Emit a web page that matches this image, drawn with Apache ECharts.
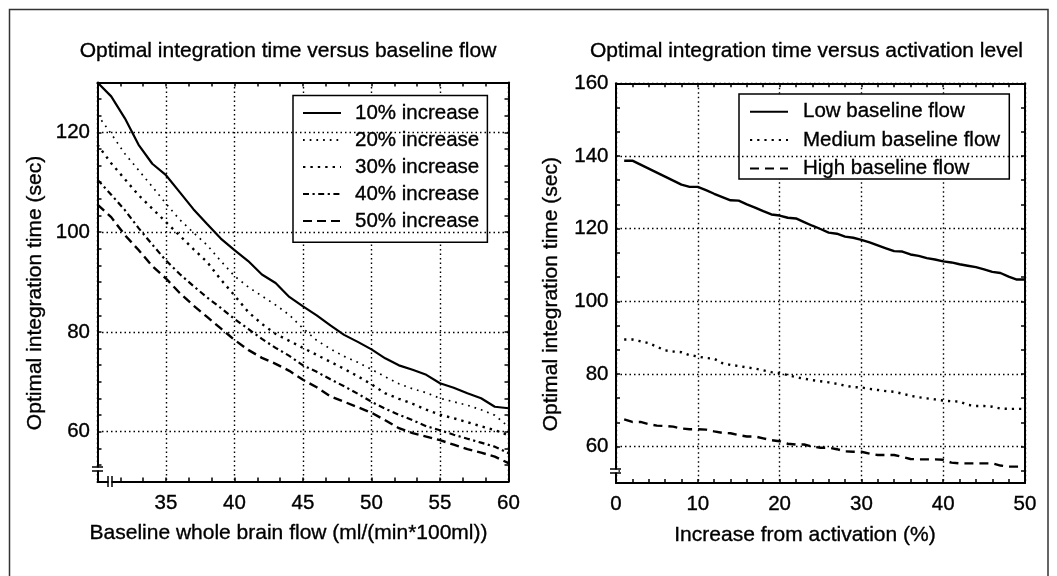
<!DOCTYPE html>
<html><head><meta charset="utf-8">
<script src="https://cdn.jsdelivr.net/npm/echarts@6/dist/echarts.min.js"></script>
<style>html,body{margin:0;padding:0;background:#fff}#c{width:1057px;height:576px}</style>
</head><body><div id="c"></div><script>
// ---------- data ----------
const flow = [30,31,32,33,34,35,36,37,38,39,40,41,42,43,44,45,46,47,48,49,50,51,52,53,54,55,56,57,58,59,60];
const inc10 = [130,127.2,122.8,117.5,113.7,111.4,108,104.6,101.6,98.7,96.4,94.2,91.5,89.8,87,85.1,83.3,81.3,79.4,78,76.5,74.7,73.3,72.4,71.4,69.7,68.8,67.7,66.7,65,64.7];
const inc20 = [123.5,119.7,115.7,112.4,109.1,105.7,102.5,99.9,97.4,94.2,91.2,89,87.2,85.4,83.4,80.7,78.3,76.6,75.1,73.9,72.5,71,69.6,68.6,67.8,66.7,66,65.3,64.4,63.3,61];
const inc30 = [117.5,113.8,110.6,107.4,104.7,102,99.3,96.6,94,90.5,87.3,84,81.6,79.6,78.2,76.8,75.4,74,72.6,71.1,69.5,67.7,66.6,65.6,64.4,63.4,62.7,61.9,61.1,60.3,59.3];
const inc40 = [110.5,107.5,104.4,100.8,97.5,94.3,91.6,89.2,86.9,84.8,82.6,80.6,78.6,76.8,75.2,73.3,72,70.5,69.1,67.6,66,64.6,63.4,62.3,61.1,60.3,59.4,58.6,57.8,57,55.7];
const inc50 = [105.5,103,99.4,96.4,93.2,90.7,87.8,85.3,83,80.7,78.4,76.4,74.8,73.6,72.2,70.4,68.9,67.1,66,64.9,63.8,62.3,60.7,59.7,59,58.3,57.4,56.5,55.8,55,53.7];

const activation = [1,2,3,4,5,6,7,8,9,10,11,12,13,14,15,16,17,18,19,20,21,22,23,24,25,26,27,28,29,30,31,32,33,34,35,36,37,38,39,40,41,42,43,44,45,46,47,48,49,50];
const lowFlow = [138.7,138.7,137.6,136.5,135.4,134.3,133.2,132.1,131.5,131.5,130.6,129.6,128.7,127.8,127.7,126.7,125.8,124.8,123.9,123.6,123,122.8,121.8,120.8,119.9,118.9,118.6,117.8,117.5,116.9,116.2,115.4,114.6,113.8,113.7,112.9,112.5,111.9,111.5,111,110.7,110.2,109.8,109.4,108.8,108.1,107.8,106.8,106,106];
const mediumFlow = [89.5,89.5,89,88.5,87.5,86.5,86.2,86,85.2,84.8,84.4,84.2,83,82.5,82.2,81.8,81.5,81,80.5,80.2,79.7,79.1,78.7,78.3,78,77.7,77.3,76.8,76.4,76.3,75.9,75.6,75.3,75.1,74.6,74,73.6,73.3,73,72.7,72.5,72.4,71.5,71.2,71.2,71,70.5,70.4,70.4,70.4];
const highFlow = [67.5,66.8,66.8,66.2,65.8,65.7,65.5,65,64.8,64.8,64.7,64.2,63.8,63.7,63.2,62.8,62.8,62.3,61.8,61.5,60.8,60.6,60.6,60,59.7,59.7,59.3,58.7,58.6,58.6,58.1,57.7,57.7,57.7,57.2,56.6,56.5,56.5,56.5,56.4,55.6,55.4,55.4,55.4,55.4,55.4,54.8,54.5,54.5,54.5];

const leftNames = ['10% increase','20% increase','30% increase','40% increase','50% increase'];
const rightNames = ['Low baseline flow','Medium baseline flow','High baseline flow'];
const leftXTicks = [35,40,45,50,55,60];
const leftYTicks = [60,80,100,120];
const rightXTicks = [0,10,20,30,40,50];
const rightYTicks = [60,80,100,120,140,160];

// ---------- helpers ----------
const FONT = '"Liberation Sans", Arial, Helvetica, sans-serif';
const BLACK = '#000';
const INK = {textBorderColor: '#000', textBorderWidth: 0.35};
function subTicks(min, max, first, step, parts) {
  const s = step / parts; const out = [];
  let v = first; while (v - s >= min - 1e-6) v -= s;
  for (; v <= max + 1e-6; v += s) out.push(+v.toFixed(4));
  return out;
}
const leftYMinor = subTicks(50, 130, 60, 20, 6);
const rightYMinor = subTicks(50, 160, 60, 20, 3);
const gridDot = {color: BLACK, width: 1.4, type: [1.5, 3]};
const axLine = {show: true, onZero: false, lineStyle: {color: BLACK, width: 2}};
const tickStyle = {color: BLACK, width: 1.5};
const labelStyle = Object.assign({color: BLACK, fontSize: 20.5, fontFamily: FONT}, INK);
const nameStyle = (pad) => Object.assign({color: BLACK, fontSize: 21, fontFamily: FONT, lineHeight: 21, padding: pad}, INK);

function xAxes(grid, min, max, interval, minorSplit, labels, name, pad) {
  return [{
    gridIndex: grid, type: 'value', position: 'bottom', min, max, interval,
    axisLine: axLine,
    axisTick: {show: true, inside: true, length: 4, lineStyle: tickStyle},
    minorTick: {show: true, splitNumber: minorSplit, length: 4, lineStyle: tickStyle},
    axisLabel: Object.assign({margin: 11, formatter: v => labels.includes(v) ? String(v) : ''}, labelStyle),
    splitLine: {show: true, lineStyle: gridDot},
    minorSplitLine: {show: false},
    name, nameLocation: 'middle', nameGap: 41.5, nameTextStyle: nameStyle(pad)
  }, {
    gridIndex: grid, type: 'value', position: 'top', min, max, interval,
    axisLine: axLine,
    axisTick: {show: true, inside: true, length: 4, lineStyle: tickStyle},
    minorTick: {show: true, splitNumber: minorSplit, length: 4, lineStyle: tickStyle},
    axisLabel: {show: false}, splitLine: {show: false}
  }];
}
function yAxes(grid, min, max, minor, labels, gap) {
  return [{
    gridIndex: grid, type: 'value', position: 'left', min, max,
    axisLine: axLine,
    axisTick: {show: true, inside: true, length: 4, customValues: minor, lineStyle: tickStyle},
    axisLabel: Object.assign({margin: 7.5, customValues: labels}, labelStyle),
    splitLine: {show: false},
    name: 'Optimal integration time (sec)', nameLocation: 'middle', nameGap: gap,
    nameTextStyle: nameStyle([0, 22, 0, 0])
  }, {
    gridIndex: grid, type: 'value', position: 'right', min, max,
    axisLine: axLine,
    axisTick: {show: true, inside: true, length: 4, customValues: minor, lineStyle: tickStyle},
    axisLabel: {show: false}, splitLine: {show: false}
  }];
}
function gridMark(ticks) {
  return {silent: true, symbol: ['none', 'none'], label: {show: false}, animation: false,
    lineStyle: gridDot, emphasis: {disabled: true}, data: ticks.map(v => ({yAxis: v}))};
}
function lineSeries(name, xs, ys, xi, yi, style, mark) {
  const s = {name, type: 'line', xAxisIndex: xi, yAxisIndex: yi, symbol: 'none', showSymbol: false,
    animation: false, lineStyle: Object.assign({color: BLACK}, style), itemStyle: {color: BLACK},
    emphasis: {disabled: true}, data: xs.map((x, i) => [x, ys[i]])};
  if (mark) s.markLine = mark;
  return s;
}
const legendBase = {
  orient: 'vertical', itemWidth: 38, itemHeight: 14, selectedMode: false,
  borderColor: BLACK, borderWidth: 1.5, backgroundColor: '#fff', borderRadius: 0,
  itemStyle: {opacity: 0, borderWidth: 0},
  textStyle: Object.assign({color: BLACK, fontSize: 20.5, fontFamily: FONT, lineHeight: 20}, INK)
};

const titleStyle = Object.assign({fontSize: 21, fontWeight: 'normal', color: BLACK, fontFamily: FONT, lineHeight: 21}, INK);
const option = {
  backgroundColor: '#fff',
  animation: false,
  title: [
    {text: 'Optimal integration time versus baseline flow', left: 288, top: 41, textAlign: 'center', padding: 0, textStyle: titleStyle},
    {text: 'Optimal integration time versus activation level', left: 806.5, top: 41, textAlign: 'center', padding: 0, textStyle: titleStyle}
  ],
  grid: [
    {left: 97.5, top: 82.4, width: 411, height: 399.2, containLabel: false, outerBoundsMode: 'none'},
    {left: 616, top: 83.3, width: 409, height: 399.7, containLabel: false, outerBoundsMode: 'none'}
  ],
  legend: [
    Object.assign({}, legendBase, {data: leftNames, left: 293, top: 95.5, itemGap: 5.7,
      padding: [6.7, 8, 10.5, 9], textStyle: Object.assign({}, legendBase.textStyle, {padding: [0, 0, 0, 9]})}),
    Object.assign({}, legendBase, {data: rightNames, left: 739, top: 94, itemGap: 7,
      padding: [7, 9, 0, 10], textStyle: Object.assign({}, legendBase.textStyle, {padding: [0, 0, 0, 10]})})
  ],
  xAxis: [].concat(
    xAxes(0, 30, 60, 5, 3, leftXTicks, 'Baseline whole brain flow (ml/(min*100ml))', [0, 29, 0, 0]),
    xAxes(1, 0, 50, 10, 5, rightXTicks, 'Increase from activation (%)', [0, 31, 0, 0])
  ),
  yAxis: [].concat(
    yAxes(0, 50, 130, leftYMinor, leftYTicks, 52),
    yAxes(1, 50, 160, rightYMinor, rightYTicks, 54)
  ),
  series: [
    lineSeries(leftNames[0], flow, inc10, 0, 0, {width: 2.2, type: 'solid'}, gridMark(leftYTicks)),
    lineSeries(leftNames[1], flow, inc20, 0, 0, {width: 1.7, type: [1.7, 5]}),
    lineSeries(leftNames[2], flow, inc30, 0, 0, {width: 2.4, type: [2.4, 5]}),
    lineSeries(leftNames[3], flow, inc40, 0, 0, {width: 2.2, type: [6, 3.5, 2.2, 3.5]}),
    lineSeries(leftNames[4], flow, inc50, 0, 0, {width: 2.4, type: [9, 5]}),
    lineSeries(rightNames[0], activation, lowFlow, 2, 2, {width: 2.4, type: 'solid'}, gridMark(rightYTicks)),
    lineSeries(rightNames[1], activation, mediumFlow, 2, 2, {width: 2.4, type: [2.2, 5]}),
    lineSeries(rightNames[2], activation, highFlow, 2, 2, {width: 2.4, type: [9, 6]})
  ],
  graphic: [
    {type: 'rect', z: 100, shape: {x: 9.5, y: 9.5, width: 1038.5, height: 620}, style: {fill: 'none', stroke: '#333', lineWidth: 1.5}, silent: true},
    // axis break marks (left plot y and x, right plot y)
    {type: 'rect', z: 100, shape: {x: 95, y: 467.5, width: 5, height: 3}, style: {fill: '#fff'}, silent: true},
    {type: 'line', z: 101, shape: {x1: 92, y1: 467, x2: 103, y2: 467}, style: {stroke: BLACK, lineWidth: 1.5}, silent: true},
    {type: 'line', z: 101, shape: {x1: 92, y1: 471, x2: 103, y2: 471}, style: {stroke: BLACK, lineWidth: 1.5}, silent: true},
    {type: 'rect', z: 100, shape: {x: 108.5, y: 479, width: 3, height: 5}, style: {fill: '#fff'}, silent: true},
    {type: 'line', z: 101, shape: {x1: 108, y1: 476, x2: 108, y2: 487}, style: {stroke: BLACK, lineWidth: 1.5}, silent: true},
    {type: 'line', z: 101, shape: {x1: 112, y1: 476, x2: 112, y2: 487}, style: {stroke: BLACK, lineWidth: 1.5}, silent: true},
    {type: 'rect', z: 100, shape: {x: 613.5, y: 469.5, width: 5, height: 3}, style: {fill: '#fff'}, silent: true},
    {type: 'line', z: 101, shape: {x1: 610, y1: 469, x2: 621, y2: 469}, style: {stroke: BLACK, lineWidth: 1.5}, silent: true},
    {type: 'line', z: 101, shape: {x1: 610, y1: 473, x2: 621, y2: 473}, style: {stroke: BLACK, lineWidth: 1.5}, silent: true}
  ]
};
const chart = echarts.init(document.getElementById('c'), null, {renderer: 'canvas'});
chart.setOption(option);
</script></body></html>
